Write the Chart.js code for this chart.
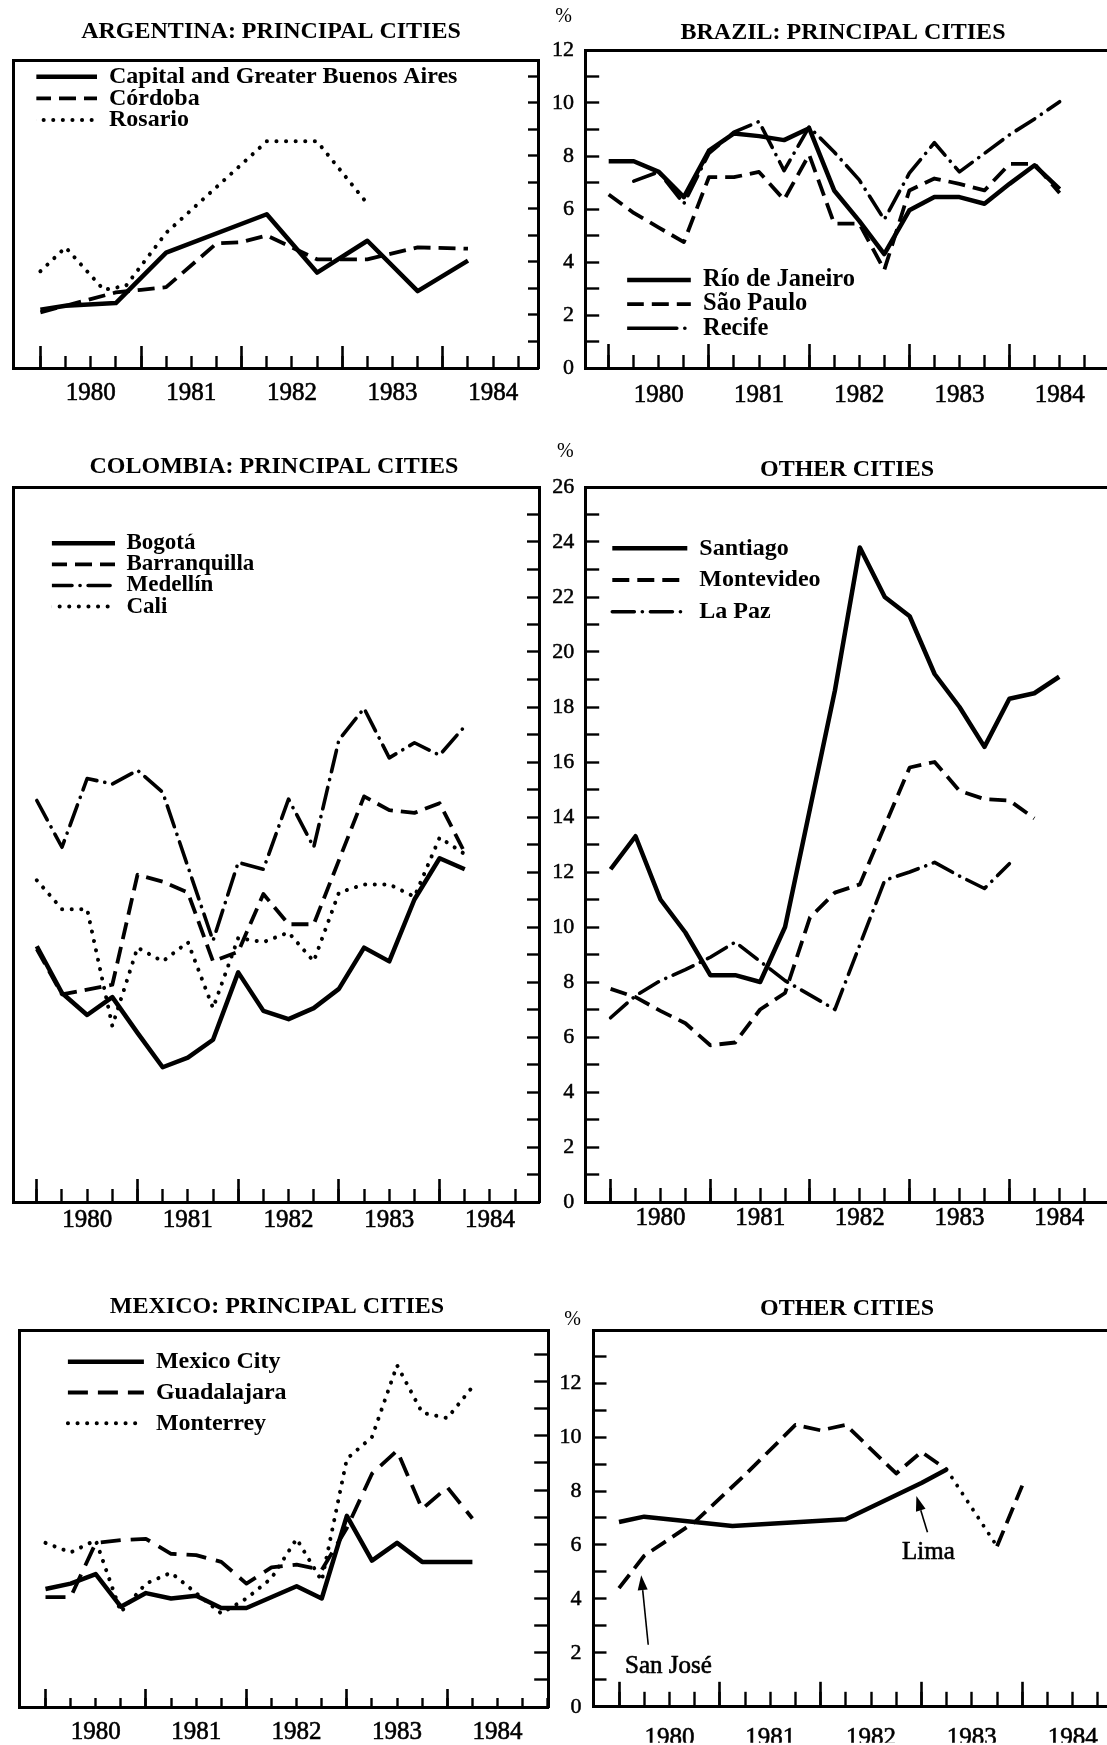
<!DOCTYPE html>
<html lang="en">
<head>
<meta charset="utf-8">
<title>Latin America: urban unemployment, 1980–1984</title>
<script src="https://cdn.jsdelivr.net/npm/chart.js@4.4.1/dist/chart.umd.min.js"></script>
<style>
  html, body { margin: 0; padding: 0; background: #fff; overflow: hidden; }
  #sheet { position: relative; width: 1107px; height: 1745px; overflow: hidden; background: #fff; }
  #sheet canvas { position: absolute; }
</style>
</head>
<body>
<div id="sheet">
  <canvas id="argentina"></canvas>
  <canvas id="colombia"></canvas>
  <canvas id="mexico"></canvas>
  <canvas id="brazil"></canvas>
  <canvas id="southCone"></canvas>
  <canvas id="limaSanJose"></canvas>
</div>
<script>
// Urban unemployment rates (%). Positions on the time axis are decimal years
// (1980.25 = second quarter of 1980).
const yearLabels = [1980, 1981, 1982, 1983, 1984];

// Argentina
const buenosAiresQ = [1980.0, 1980.25, 1980.75, 1981.25, 1982.25, 1982.75, 1983.25, 1983.75, 1984.25];
const buenosAires  = [2.2, 2.35, 2.45, 4.35, 5.8, 3.6, 4.8, 2.9, 4.05];
const cordobaQ = [1980.0, 1980.5, 1980.75, 1981.0, 1981.25, 1981.75, 1982.0, 1982.25, 1982.75, 1983.25, 1983.75, 1984.25];
const cordoba  = [2.1, 2.6, 2.85, 2.95, 3.05, 4.7, 4.75, 5.0, 4.1, 4.1, 4.55, 4.5];
const rosarioQ = [1980.0, 1980.25, 1980.63, 1980.85, 1981.25, 1982.25, 1982.75, 1983.25];
const rosario  = [3.65, 4.55, 2.95, 3.1, 5.1, 8.55, 8.55, 6.2];

// Brazil
const brazilQ = [1980.0, 1980.25, 1980.5, 1980.75, 1981.0, 1981.25, 1981.5, 1981.75, 1982.0, 1982.25,
                 1982.5, 1982.75, 1983.0, 1983.25, 1983.5, 1983.75, 1984.0, 1984.25, 1984.5];
const rioDeJaneiro = [7.8, 7.8, 7.4, 6.45, 8.2, 8.85, 8.75, 8.6, 9.05, 6.7, 5.55, 4.3, 5.95, 6.45, 6.45, 6.2, 6.95, 7.65, 6.75];
const saoPaulo     = [6.55, 5.85, 5.3, 4.75, 7.2, 7.2, 7.4, 6.35, 8.05, 5.45, 5.45, 3.7, 6.7, 7.15, 6.95, 6.7, 7.7, 7.7, 6.6];
const recifeQ = [1980.25, 1980.5, 1980.75, 1981.0, 1981.25, 1981.5, 1981.75, 1982.0, 1982.25,
                 1982.5, 1982.75, 1983.0, 1983.25, 1983.5, 1983.75, 1984.0, 1984.25, 1984.5];
const recife  = [7.05, 7.4, 6.2, 8.1, 8.9, 9.3, 7.45, 9.1, 8.15, 7.1, 5.6, 7.35, 8.5, 7.4, 8.1, 8.8, 9.4, 10.05];

// Colombia
const colombiaQ = [1980.0, 1980.25, 1980.5, 1980.75, 1981.0, 1981.25, 1981.5, 1981.75, 1982.0,
                   1982.25, 1982.5, 1982.75, 1983.0, 1983.25, 1983.5, 1983.75, 1984.0, 1984.25];
const bogota = [9.3, 7.6, 6.8, 7.45, 6.15, 4.9, 5.25, 5.9, 8.35, 6.95, 6.65, 7.05, 7.75, 9.25, 8.75, 11.0, 12.5, 12.1];
const cali   = [11.7, 10.65, 10.65, 6.4, 9.25, 8.75, 9.45, 7.05, 9.6, 9.45, 9.8, 8.75, 11.25, 11.55, 11.55, 11.1, 13.25, 12.65];
const barranquillaQ = [1980.0, 1980.25, 1980.75, 1981.0, 1981.25, 1981.5, 1981.75, 1982.0, 1982.25,
                       1982.5, 1982.75, 1983.25, 1983.5, 1983.75, 1984.0, 1984.25];
const barranquilla  = [9.2, 7.55, 7.9, 11.9, 11.65, 11.25, 8.75, 9.1, 11.2, 10.1, 10.1, 14.75, 14.25, 14.15, 14.5, 12.7];
const medellinQ = [1980.0, 1980.25, 1980.5, 1980.75, 1981.0, 1981.25, 1981.75, 1982.0, 1982.25,
                   1982.5, 1982.75, 1983.0, 1983.25, 1983.5, 1983.75, 1984.0, 1984.25];
const medellin  = [14.6, 12.9, 15.4, 15.2, 15.7, 14.9, 9.5, 12.35, 12.1, 14.65, 12.9, 16.8, 17.95, 16.15, 16.7, 16.25, 17.3];

// Other cities: Santiago, Montevideo, La Paz
const santiagoQ = [1980.0, 1980.25, 1980.5, 1980.75, 1981.0, 1981.25, 1981.5, 1981.75, 1982.0, 1982.25,
                   1982.5, 1982.75, 1983.0, 1983.25, 1983.5, 1983.75, 1984.0, 1984.25, 1984.5];
const santiago  = [12.1, 13.3, 11.0, 9.8, 8.25, 8.25, 8.0, 10.0, 14.3, 18.6, 23.8, 22.0, 21.3, 19.2, 18.0, 16.55, 18.3, 18.5, 19.1];
const montevideoQ = [1980.0, 1980.25, 1980.5, 1980.75, 1981.0, 1981.25, 1981.5, 1981.75, 1982.0,
                     1982.25, 1982.5, 1983.0, 1983.25, 1983.5, 1983.75, 1984.0, 1984.25];
const montevideo  = [7.75, 7.45, 6.95, 6.5, 5.7, 5.8, 7.0, 7.6, 10.35, 11.25, 11.55, 15.8, 16.0, 14.95, 14.65, 14.6, 13.95];
const laPazQ = [1980.0, 1980.25, 1980.5, 1980.75, 1981.0, 1981.25, 1981.5, 1981.75, 1982.25,
                1982.5, 1982.75, 1983.0, 1983.25, 1983.5, 1983.75, 1984.0];
const laPaz  = [6.7, 7.5, 8.05, 8.45, 8.9, 9.45, 8.75, 8.05, 7.0, 9.35, 11.7, 12.0, 12.35, 11.85, 11.4, 12.3];

// Mexico
const mexicoQ = [1980.0, 1980.25, 1980.5, 1980.75, 1981.0, 1981.25, 1981.5, 1981.75, 1982.0,
                 1982.25, 1982.5, 1982.75, 1983.0, 1983.25, 1983.5, 1983.75, 1984.0, 1984.25];
const guadalajara = [4.05, 4.05, 6.05, 6.15, 6.2, 5.65, 5.6, 5.35, 4.55, 5.15, 5.25, 5.05, 6.6, 8.6, 9.45, 7.3, 8.1, 6.95];
const monterrey   = [6.05, 5.7, 6.15, 3.5, 4.55, 4.95, 4.2, 3.45, 4.0, 4.75, 6.2, 4.65, 9.15, 9.95, 12.6, 10.85, 10.65, 11.8];
const mexicoCityQ = [1980.0, 1980.25, 1980.5, 1980.75, 1981.0, 1981.25, 1981.5, 1981.75, 1982.0,
                     1982.5, 1982.75, 1983.0, 1983.25, 1983.5, 1983.75, 1984.0, 1984.25];
const mexicoCity  = [4.35, 4.55, 4.9, 3.7, 4.2, 4.0, 4.1, 3.65, 3.65, 4.45, 4.0, 7.05, 5.4, 6.05, 5.35, 5.35, 5.35];

// Other cities: Lima, San José
const limaQ = [1980.0, 1980.25, 1980.75, 1981.125, 1982.25, 1983.0, 1983.25];
const lima  = [6.85, 7.05, 6.85, 6.7, 6.95, 8.3, 8.8];
const sanJoseQ = [1980.0, 1980.25, 1980.75, 1981.25, 1981.75, 1982.0, 1982.25, 1982.75, 1983.0, 1983.25, 1983.75, 1984.0];
const sanJose  = [4.4, 5.6, 6.85, 8.6, 10.45, 10.25, 10.45, 8.65, 9.45, 8.8, 5.95, 8.2];
const sanJoseDottedFrom = [1983.25];   // the stretch after this quarter is only dotted

// ---------------------------------------------------------------------------
const INK = '#000';
const SERIF = "'Liberation Serif', 'Times New Roman', serif";
Chart.defaults.font.family = SERIF;
Chart.defaults.color = INK;

const SOLID    = {width: 4.5, dash: [], cap: 'butt'};
const DASHED   = {width: 3.8, dash: [17, 8], cap: 'butt'};
const DASHED_L = {width: 3.8, dash: [20, 10], cap: 'butt'};
const DOTTED   = {width: 4, dash: [0.1, 9.5], cap: 'round'};
const DASH_DOT = {width: 3.6, dash: [22, 8, 0.1, 8], cap: 'round'};

// quarter marks along the time axis
const quarterTicks = [];
for (let y = 1980; y <= 1985; y++) for (let k = 0; k < 4; k++) quarterTicks.push(y + k / 4);

const pts = (q, v) => q.map((x, i) => ({x, y: v[i]}));
const fixedTicks = values => scale => {
  scale.ticks = values
    .filter(v => v >= scale.min - 1e-9 && v <= scale.max + 1e-9)
    .map(v => ({value: v}));
};

// moves the in-plot legend to its spot inside the frame
const legendPlacement = {
  id: 'legendPlacement',
  afterLayout(chart, args, opts) {
    const lg = chart.legend;
    if (!lg || opts.x === undefined) return;
    const area = chart.chartArea;
    const left = area.left + opts.x - opts.pad;
    const top = area.top + opts.y - opts.pad - opts.size / 2;
    const dx = left - lg.left, dy = top - lg.top;
    lg.left += dx; lg.right += dx;
    lg.top += dy; lg.bottom += dy;
  }
};

// "%" unit mark and arrowed call-outs
const panelMarks = {
  id: 'panelMarks',
  afterDraw(chart, args, opts) {
    const {ctx, chartArea, scales} = chart;
    ctx.save();
    ctx.fillStyle = INK;
    ctx.strokeStyle = INK;
    ctx.textAlign = 'center';
    ctx.textBaseline = 'middle';
    if (opts.unit) {
      ctx.font = '20px ' + SERIF;
      ctx.fillText('%', chartArea.left + opts.unit.dx, chartArea.top + opts.unit.dy);
    }
    (opts.callouts || []).forEach(c => {
      const tx = scales.x.getPixelForValue(c.tip[0]), ty = scales.y.getPixelForValue(c.tip[1]);
      const bx = scales.x.getPixelForValue(c.tail[0]), by = scales.y.getPixelForValue(c.tail[1]);
      const ang = Math.atan2(ty - by, tx - bx);
      const head = 15, half = 5;
      const hx = tx - Math.cos(ang) * head, hy = ty - Math.sin(ang) * head;
      ctx.lineWidth = 1.6;
      ctx.beginPath(); ctx.moveTo(bx, by); ctx.lineTo(hx, hy); ctx.stroke();
      ctx.beginPath();
      ctx.moveTo(tx, ty);
      ctx.lineTo(hx + Math.sin(ang) * half, hy - Math.cos(ang) * half);
      ctx.lineTo(hx - Math.sin(ang) * half, hy + Math.cos(ang) * half);
      ctx.closePath(); ctx.fill();
      const px = scales.x.getPixelForValue(c.at[0]), py = scales.y.getPixelForValue(c.at[1]);
      ctx.font = '25px ' + SERIF;
      ctx.lineWidth = 0.6;
      ctx.strokeText(c.text, px, py);
      ctx.fillText(c.text, px, py);
    });
    ctx.restore();
  }
};

function buildPanel(p) {
  const canvas = document.getElementById(p.id);
  canvas.width = p.box.width;
  canvas.height = p.box.height;
  canvas.style.left = p.box.left + 'px';
  canvas.style.top = p.box.top + 'px';

  const labelled = p.side === 'left';
  const yTicks = [];
  for (let v = labelled ? 0 : 1; v <= Math.floor(p.yMax + 1e-9); v++) yTicks.push(v);

  const scales = {
    x: {
      type: 'linear', axis: 'x', position: 'bottom', min: p.xMin, max: p.xMax,
      afterBuildTicks: fixedTicks(quarterTicks),
      ticks: {display: false},
      grid: {display: true, drawOnChartArea: false, drawTicks: true, tickLength: -p.xShort,
             tickWidth: 2.4, tickColor: INK, lineWidth: 1},
      border: {display: true, width: 3, color: INK},
      afterFit: s => { s.height = 0; }
    },
    xYear: {
      type: 'linear', axis: 'x', position: 'bottom', min: p.xMin, max: p.xMax,
      afterBuildTicks: fixedTicks(yearLabels),
      ticks: {display: false},
      grid: {display: true, drawOnChartArea: false, drawTicks: true, tickLength: -p.xLong,
             tickWidth: 2.6, tickColor: INK, lineWidth: 1},
      border: {display: false},
      afterFit: s => { s.height = 0; }
    },
    xLab: {
      type: 'linear', axis: 'x', position: 'bottom', min: p.xMin, max: p.xMax,
      afterBuildTicks: fixedTicks(yearLabels.map(y => y + 0.5)),
      ticks: {display: true, autoSkip: false, maxRotation: 0, minRotation: 0, padding: p.labPad,
              color: INK, font: {family: SERIF, size: 25},
              textStrokeColor: INK, textStrokeWidth: 0.6,
              callback: v => String(Math.floor(v))},
      grid: {display: false, drawTicks: false},
      border: {display: false},
      afterFit: s => { s.height = p.labH; }
    },
    xTop: {
      type: 'linear', axis: 'x', position: 'top', min: 0, max: 1, display: true,
      ticks: {display: false},
      grid: {display: false, drawTicks: false},
      border: {display: true, width: 3, color: INK},
      afterFit: s => { s.height = 0; }
    },
    y: {
      type: 'linear', axis: 'y', position: p.side, min: 0, max: p.yMax,
      afterBuildTicks: fixedTicks(yTicks),
      ticks: {display: labelled, autoSkip: false, padding: p.yLabPad || 0, color: INK,
              font: {family: SERIF, size: 22},
              textStrokeColor: INK, textStrokeWidth: 0.5,
              callback: v => (v % 2 === 0 ? String(v) : '')},
      grid: {display: true, drawOnChartArea: false, drawTicks: true, tickLength: -p.yTick,
             tickWidth: 2.4, tickColor: INK, lineWidth: 1},
      border: {display: true, width: 3, color: INK},
      afterFit: s => { s.width = p.yW; }
    }
  };
  if (!labelled) {
    scales.yFrame = {
      type: 'linear', axis: 'y', position: 'left', min: 0, max: 1, display: true,
      ticks: {display: false},
      grid: {display: false, drawTicks: false},
      border: {display: true, width: 3, color: INK},
      afterFit: s => { s.width = p.frameW; }
    };
  }

  const datasets = p.series.map(s => ({
    label: s.label,
    data: pts(s.q, s.v),
    borderColor: INK,
    backgroundColor: INK,
    borderWidth: s.style.width,
    borderDash: s.style.dash,
    borderCapStyle: s.style.cap,
    borderJoinStyle: 'round',
    pointRadius: 0,
    pointHoverRadius: 0,
    tension: 0,
    fill: false,
    segment: s.segment,
    keyDash: s.keyDash
  }));

  const lg = p.legend;
  return new Chart(canvas, {
    type: 'line',
    data: {datasets},
    options: {
      responsive: false,
      animation: false,
      events: [],
      layout: {padding: {left: p.padL, right: p.padR, top: 0, bottom: 0}, autoPadding: false},
      plugins: {
        title: {
          display: true, text: p.title, color: INK, align: 'center',
          font: {family: SERIF, size: 24, weight: 'bold', lineHeight: 1.2},
          padding: {top: p.titleTop, bottom: p.titleBottom}
        },
        legend: lg ? {
          display: true, position: 'chartArea', align: 'start',
          labels: {
            color: INK, font: {family: SERIF, size: lg.size, weight: 'bold'},
            usePointStyle: true, pointStyle: 'line', pointStyleWidth: lg.sample,
            padding: lg.gap - lg.size,
            generateLabels: chart => chart.data.datasets.map((ds, i) => ({
              text: ds.label, fontColor: INK, strokeStyle: ds.borderColor, fillStyle: ds.borderColor,
              lineWidth: ds.borderWidth, lineDash: ds.keyDash || ds.borderDash, lineCap: ds.borderCapStyle,
              pointStyle: 'line', hidden: false, datasetIndex: i
            }))
          }
        } : {display: false},
        tooltip: {enabled: false},
        legendPlacement: lg ? {x: lg.x, y: lg.y, pad: lg.gap - lg.size, size: lg.size} : {},
        panelMarks: {unit: p.unit, callouts: p.callouts}
      },
      scales
    },
    plugins: [legendPlacement, panelMarks]
  });
}

const panels = [
  {
    id: 'argentina', box: {left: 0, top: 0, width: 548, height: 420},
    title: 'ARGENTINA: PRINCIPAL CITIES', titleTop: 17.6, titleBottom: 13.6,
    padL: 4, padR: 10, frameW: 9, side: 'right', yW: 0,
    xMin: 1979.7276, xMax: 1984.946, yMax: 11.62,
    labH: 52, labPad: 10, xShort: 12, xLong: 22, yTick: 10,
    legend: {size: 24, gap: 21.65, x: 21, y: 16.7, sample: 63},
    series: [
      {label: 'Capital and Greater Buenos Aires', q: buenosAiresQ, v: buenosAires, style: SOLID},
      {label: 'Córdoba', q: cordobaQ, v: cordoba, style: DASHED},
      {label: 'Rosario', q: rosarioQ, v: rosario, style: DOTTED}
    ]
  },
  {
    id: 'brazil', box: {left: 500, top: 0, width: 686, height: 420},
    title: 'BRAZIL: PRINCIPAL CITIES', titleTop: 18.6, titleBottom: 2.6,
    padL: 0, padR: 0, side: 'left', yW: 85.2, yLabPad: 25.2,
    xMin: 1979.7655, xMax: 1985.761, yMax: 12,
    labH: 52, labPad: 12, xShort: 13, xLong: 24, yTick: 14,
    legend: {size: 24.5, gap: 24.15, x: 41.6, y: 230, sample: 64},
    unit: {dx: -21.7, dy: -33.3},
    series: [
      {label: 'Río de Janeiro', q: brazilQ, v: rioDeJaneiro, style: SOLID},
      {label: 'São Paulo', q: brazilQ, v: saoPaulo, style: DASHED},
      {label: 'Recife', q: recifeQ, v: recife, style: DASH_DOT, keyDash: [50, 8, 0.1, 20]}
    ]
  },
  {
    id: 'colombia', box: {left: 0, top: 420, width: 548, height: 830},
    title: 'COLOMBIA: PRINCIPAL CITIES', titleTop: 32.3, titleBottom: 5.9,
    padL: 9, padR: 9, frameW: 4, side: 'right', yW: 0,
    xMin: 1979.7637, xMax: 1984.987, yMax: 26,
    labH: 48, labPad: 3, xShort: 13, xLong: 23, yTick: 12,
    legend: {size: 23, gap: 21.1, x: 37, y: 56.3, sample: 65},
    series: [
      {label: 'Bogotá', q: colombiaQ, v: bogota, style: SOLID},
      {label: 'Barranquilla', q: barranquillaQ, v: barranquilla, style: DASHED},
      {label: 'Medellín', q: medellinQ, v: medellin, style: DASH_DOT},
      {label: 'Cali', q: colombiaQ, v: cali, style: DOTTED}
    ]
  },
  {
    id: 'southCone', box: {left: 500, top: 420, width: 694, height: 830},
    title: 'OTHER CITIES', titleTop: 35.6, titleBottom: 2.6,
    padL: 0, padR: 0, side: 'left', yW: 85.2, yLabPad: 25,
    xMin: 1979.7452, xMax: 1985.852, yMax: 26,
    labH: 48, labPad: 1.3, xShort: 14, xLong: 23, yTick: 14,
    legend: {size: 24, gap: 31.7, x: 27.1, y: 61.3, sample: 75},
    unit: {dx: -19.9, dy: -35.3},
    series: [
      {label: 'Santiago', q: santiagoQ, v: santiago, style: SOLID},
      {label: 'Montevideo', q: montevideoQ, v: montevideo, style: DASHED},
      {label: 'La Paz', q: laPazQ, v: laPaz, style: DASH_DOT}
    ]
  },
  {
    id: 'mexico', box: {left: 0, top: 1250, width: 560, height: 495},
    title: 'MEXICO: PRINCIPAL CITIES', titleTop: 42.3, titleBottom: 8.9,
    padL: 5.8, padR: 11.8, frameW: 13.8, side: 'right', yW: 0,
    xMin: 1979.7422, xMax: 1985.0045, yMax: 13.9,
    labH: 38, labPad: 10, xShort: 9, xLong: 18, yTick: 14,
    legend: {size: 24, gap: 30.8, x: 48.3, y: 31.7, sample: 76},
    series: [
      {label: 'Mexico City', q: mexicoCityQ, v: mexicoCity, style: SOLID},
      {label: 'Guadalajara', q: mexicoQ, v: guadalajara, style: DASHED_L},
      {label: 'Monterrey', q: mexicoQ, v: monterrey, style: DOTTED}
    ]
  },
  {
    id: 'limaSanJose', box: {left: 500, top: 1250, width: 694, height: 495},
    title: 'OTHER CITIES', titleTop: 43.9, titleBottom: 7.3,
    padL: 0, padR: 0, side: 'left', yW: 93.5, yLabPad: 25,
    xMin: 1979.747, xMax: 1985.704, yMax: 13.97,
    labH: 36, labPad: 17, xShort: 15, xLong: 25, yTick: 13,
    legend: null,
    unit: {dx: -21, dy: -10},
    callouts: [
      {text: 'Lima', tip: [1982.95, 7.82], tail: [1983.06, 6.47], at: [1983.07, 5.72]},
      {text: 'San José', tip: [1980.22, 4.88], tail: [1980.29, 2.3], at: [1980.49, 1.5]}
    ],
    series: [
      {label: 'Lima', q: limaQ, v: lima, style: SOLID},
      {label: 'San José', q: sanJoseQ, v: sanJose, style: DASHED,
       segment: {
         borderDash: ctx => (sanJoseDottedFrom.includes(ctx.p0.parsed.x) ? DOTTED.dash : undefined),
         borderCapStyle: ctx => (sanJoseDottedFrom.includes(ctx.p0.parsed.x) ? 'round' : undefined)
       }}
    ]
  }
];

panels.forEach(buildPanel);
</script>
</body>
</html>
